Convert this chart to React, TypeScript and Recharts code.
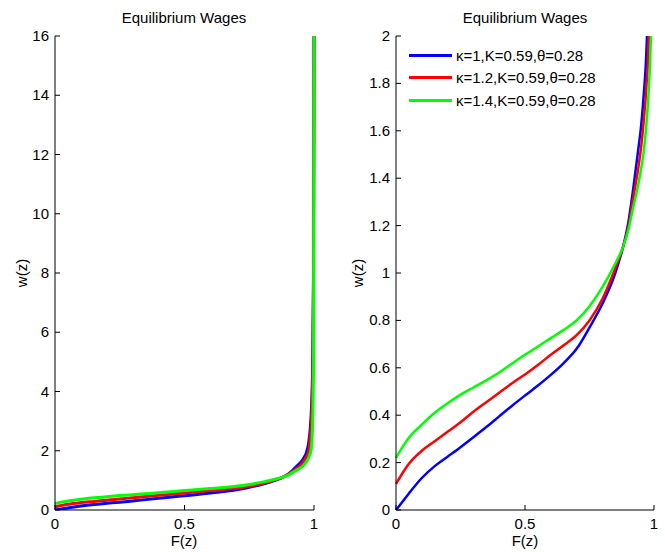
import React from 'react';
import { LineChart, Line, XAxis, YAxis } from 'recharts';

// F(z) grid (denser near 1 where the wages blow up)
const fValues = [
  0, 0.025, 0.05, 0.1, 0.15, 0.2, 0.25, 0.3, 0.35, 0.4, 0.45, 0.5, 0.55, 0.6, 0.65, 0.7,
  0.75, 0.8, 0.85, 0.88, 0.9, 0.92, 0.94, 0.95, 0.96, 0.97, 0.98, 0.985, 0.99, 0.995, 0.998, 1,
];

// w(z) for kappa = 1, 1.2, 1.4
const wKappa1 = [
  0, 0.035, 0.07, 0.135, 0.185, 0.225, 0.265, 0.307, 0.35, 0.395, 0.44, 0.483, 0.525, 0.57, 0.62, 0.68,
  0.77, 0.87, 1.0, 1.11, 1.21, 1.36, 1.53, 1.62, 1.75, 1.92, 2.3, 2.7, 3.4, 5.0, 8.0, 16,
];
const wKappa12 = [
  0.11, 0.155, 0.195, 0.25, 0.29, 0.33, 0.37, 0.415, 0.455, 0.495, 0.535, 0.572, 0.612, 0.655, 0.695, 0.738,
  0.8, 0.89, 1.02, 1.11, 1.19, 1.32, 1.45, 1.53, 1.64, 1.78, 2.0, 2.4, 3.0, 4.5, 7.5, 16,
];
const wKappa14 = [
  0.22, 0.265, 0.305, 0.36, 0.41, 0.45, 0.487, 0.517, 0.547, 0.58, 0.618, 0.655, 0.69, 0.725, 0.76, 0.8,
  0.86, 0.94, 1.04, 1.11, 1.18, 1.28, 1.38, 1.44, 1.51, 1.62, 1.78, 1.9, 2.1, 3.0, 5.0, 16,
];

const xTicks = [0, 0.5, 1];
const leftYTicks = [0, 2, 4, 6, 8, 10, 12, 14, 16];
const rightYTicks = [0, 0.2, 0.4, 0.6, 0.8, 1, 1.2, 1.4, 1.6, 1.8, 2];

const seriesKeys = ['k1', 'k12', 'k14'];
const seriesNames = ['κ=1,K=0.59,θ=0.28', 'κ=1.2,K=0.59,θ=0.28', 'κ=1.4,K=0.59,θ=0.28'];
const seriesColors = ['#0000ff', '#ff0000', '#00ff00'];

const rows = fValues.map((f, i) => ({ f, k1: wKappa1[i], k12: wKappa12[i], k14: wKappa14[i] }));

const FONT = '"Liberation Sans", Arial, sans-serif';
const FONT_SIZE = 15;
const TICK_LEN = 5;
const GAP = 6;

// inward MATLAB-style ticks; tickSize is 0 so x/y arrive offset by tickMargin
const makeTick = (side: string) => (props: any) => {
  const { x, y, payload } = props;
  if (side === 'left') {
    const ax = x + GAP;
    return (
      <g>
        <line x1={ax} x2={ax + TICK_LEN} y1={y} y2={y} stroke="#000" />
        <text x={x} y={y} dy={5} textAnchor="end" fontSize={FONT_SIZE} fontFamily={FONT} fill="#000">
          {payload.value}
        </text>
      </g>
    );
  }
  if (side === 'bottom') {
    const ay = y - GAP;
    return (
      <g>
        <line x1={x} x2={x} y1={ay} y2={ay - TICK_LEN} stroke="#000" />
        <text x={x} y={y} dy={13} textAnchor="middle" fontSize={FONT_SIZE} fontFamily={FONT} fill="#000">
          {payload.value}
        </text>
      </g>
    );
  }
  if (side === 'top') {
    return <line x1={x} x2={x} y1={y} y2={y + TICK_LEN} stroke="#000" />;
  }
  return <line x1={x} x2={x - TICK_LEN} y1={y} y2={y} stroke="#000" />;
};

const axisLine = { stroke: '#000' };

interface PanelProps {
  width: number;
  yWidth: number;
  rightMargin: number;
  yMax: number;
  yTicks: number[];
  strokeWidth: number;
}

const Panel = ({ width, yWidth, rightMargin, yMax, yTicks, strokeWidth }: PanelProps) => (
  <LineChart
    width={width}
    height={552}
    data={rows}
    margin={{ top: 36, right: rightMargin, bottom: 0, left: 0 }}
  >
    <XAxis
      dataKey="f"
      type="number"
      domain={[0, 1]}
      ticks={xTicks}
      interval={0}
      height={42}
      tickSize={0}
      tickMargin={GAP}
      tickLine={false}
      axisLine={axisLine}
      tick={makeTick('bottom')}
    />
    <XAxis
      xAxisId="top"
      orientation="top"
      dataKey="f"
      type="number"
      domain={[0, 1]}
      ticks={xTicks}
      interval={0}
      height={0}
      tickSize={0}
      tickMargin={0}
      tickLine={false}
      axisLine={axisLine}
      tick={makeTick('top')}
    />
    <YAxis
      type="number"
      domain={[0, yMax]}
      ticks={yTicks}
      interval={0}
      allowDataOverflow
      width={yWidth}
      tickSize={0}
      tickMargin={GAP}
      tickLine={false}
      axisLine={axisLine}
      tick={makeTick('left')}
    />
    <YAxis
      yAxisId="right"
      orientation="right"
      type="number"
      domain={[0, yMax]}
      ticks={yTicks}
      interval={0}
      allowDataOverflow
      width={0}
      tickSize={0}
      tickMargin={0}
      tickLine={false}
      axisLine={axisLine}
      tick={makeTick('right')}
    />
    {seriesKeys.map((key, i) => (
      <Line
        key={key}
        dataKey={key}
        name={seriesNames[i]}
        type="monotone"
        stroke={seriesColors[i]}
        strokeWidth={strokeWidth}
        dot={false}
        isAnimationActive={false}
      />
    ))}
  </LineChart>
);

const textStyle: React.CSSProperties = {
  position: 'absolute',
  fontFamily: FONT,
  fontSize: FONT_SIZE,
  color: '#000',
  whiteSpace: 'nowrap',
  lineHeight: '16px',
};

const App = () => (
  <div style={{ position: 'absolute', left: 0, top: 0, width: 665, height: 552, background: '#fff' }}>
    <div style={{ position: 'absolute', left: 0, top: 0 }}>
      <Panel width={330} yWidth={55} rightMargin={16} yMax={16} yTicks={leftYTicks} strokeWidth={3} />
    </div>
    <div style={{ position: 'absolute', left: 330, top: 0 }}>
      <Panel width={335} yWidth={66} rightMargin={11} yMax={2} yTicks={rightYTicks} strokeWidth={2.5} />
    </div>

    {/* titles and axis labels */}
    <div style={{ ...textStyle, left: 184, top: 10, transform: 'translateX(-50%)' }}>Equilibrium Wages</div>
    <div style={{ ...textStyle, left: 525, top: 10, transform: 'translateX(-50%)' }}>Equilibrium Wages</div>
    <div style={{ ...textStyle, left: 184, top: 533, transform: 'translateX(-50%)' }}>F(z)</div>
    <div style={{ ...textStyle, left: 525, top: 533, transform: 'translateX(-50%)' }}>F(z)</div>
    <div style={{ ...textStyle, left: 22, top: 273, transform: 'translate(-50%, -50%) rotate(-90deg)' }}>w(z)</div>
    <div style={{ ...textStyle, left: 358, top: 273, transform: 'translate(-50%, -50%) rotate(-90deg)' }}>w(z)</div>

    {/* legend */}
    <div style={{ position: 'absolute', left: 409, top: 44 }}>
      {seriesNames.map((name, i) => (
        <div key={name} style={{ display: 'flex', alignItems: 'center', height: 22.5 }}>
          <div style={{ width: 43, height: 3, background: seriesColors[i], marginRight: 4 }} />
          <span style={{ fontFamily: FONT, fontSize: FONT_SIZE, color: '#000', whiteSpace: 'nowrap' }}>{name}</span>
        </div>
      ))}
    </div>
  </div>
);

export default App;
